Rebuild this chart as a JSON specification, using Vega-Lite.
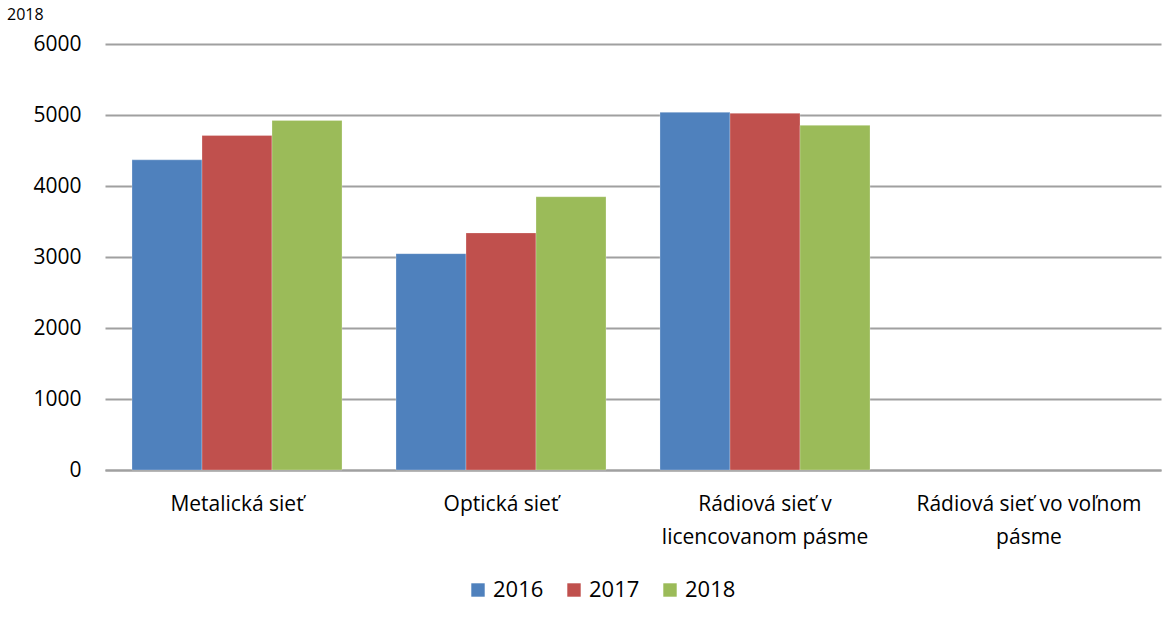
{
  "$schema": "https://vega.github.io/schema/vega-lite/v6.json",
  "autosize": {"type": "none"},
  "width": 1056,
  "height": 426,
  "padding": {"left": 105, "top": 44, "right": 15, "bottom": 155},
  "background": "white",
  "config": {
    "font": "Open Sans",
    "view": {"stroke": null}
  },
  "title": {
    "text": "2018",
    "anchor": "start",
    "frame": "group",
    "fontSize": 16,
    "fontWeight": "normal",
    "color": "#000000",
    "baseline": "alphabetic",
    "offset": 3,
    "dx": -98,
    "dy": 6
  },
  "data": {
    "values": [
      {"kategoria": "Metalická sieť", "rok": "2016", "hodnota": 4368},
      {"kategoria": "Metalická sieť", "rok": "2017", "hodnota": 4711},
      {"kategoria": "Metalická sieť", "rok": "2018", "hodnota": 4924},
      {"kategoria": "Optická sieť", "rok": "2016", "hodnota": 3047},
      {"kategoria": "Optická sieť", "rok": "2017", "hodnota": 3339},
      {"kategoria": "Optická sieť", "rok": "2018", "hodnota": 3849},
      {"kategoria": "Rádiová sieť v licencovanom pásme", "rok": "2016", "hodnota": 5038},
      {"kategoria": "Rádiová sieť v licencovanom pásme", "rok": "2017", "hodnota": 5024},
      {"kategoria": "Rádiová sieť v licencovanom pásme", "rok": "2018", "hodnota": 4854},
      {"kategoria": "Rádiová sieť vo voľnom pásme", "rok": "2016", "hodnota": null},
      {"kategoria": "Rádiová sieť vo voľnom pásme", "rok": "2017", "hodnota": null},
      {"kategoria": "Rádiová sieť vo voľnom pásme", "rok": "2018", "hodnota": null}
    ]
  },
  "mark": {"type": "bar", "stroke": "white", "strokeWidth": 0.5, "strokeOpacity": 0.5},
  "encoding": {
    "x": {
      "field": "kategoria",
      "type": "nominal",
      "scale": {
        "domain": ["Metalická sieť", "Optická sieť", "Rádiová sieť v licencovanom pásme", "Rádiová sieť vo voľnom pásme"],
        "paddingInner": 0.2045,
        "paddingOuter": 0.1023
      },
      "axis": {
        "title": null,
        "labelAngle": 0,
        "labelFontSize": 21,
        "labelColor": "#000000",
        "labelPadding": 23,
        "labelLineHeight": 33,
        "labelLimit": 300,
        "ticks": false,
        "domain": true,
        "domainColor": "#A0A0A0",
        "domainWidth": 2,
        "labelExpr": "datum.value == 'Rádiová sieť v licencovanom pásme' ? ['Rádiová sieť v', 'licencovanom pásme'] : (datum.value == 'Rádiová sieť vo voľnom pásme' ? ['Rádiová sieť vo voľnom', 'pásme'] : datum.value)"
      }
    },
    "xOffset": {"field": "rok", "type": "nominal"},
    "y": {
      "field": "hodnota",
      "type": "quantitative",
      "scale": {"domain": [0, 6000], "nice": false},
      "axis": {
        "title": null,
        "values": [0, 1000, 2000, 3000, 4000, 5000, 6000],
        "format": "d",
        "labelFontSize": 21,
        "labelColor": "#000000",
        "labelPadding": 24,
        "ticks": false,
        "domain": false,
        "grid": true,
        "gridColor": "#A0A0A0",
        "gridWidth": 2
      }
    },
    "color": {
      "field": "rok",
      "type": "nominal",
      "scale": {"domain": ["2016", "2017", "2018"], "range": ["#4F81BD", "#C0504D", "#9BBB59"]},
      "legend": {
        "title": null,
        "orient": "none",
        "legendX": 362,
        "legendY": 535,
        "direction": "horizontal",
        "symbolType": "square",
        "symbolSize": 180,
        "symbolStrokeWidth": 0,
        "labelFontSize": 22,
        "labelColor": "#000000",
        "labelOffset": 4,
        "columnPadding": 19
      }
    }
  }
}
